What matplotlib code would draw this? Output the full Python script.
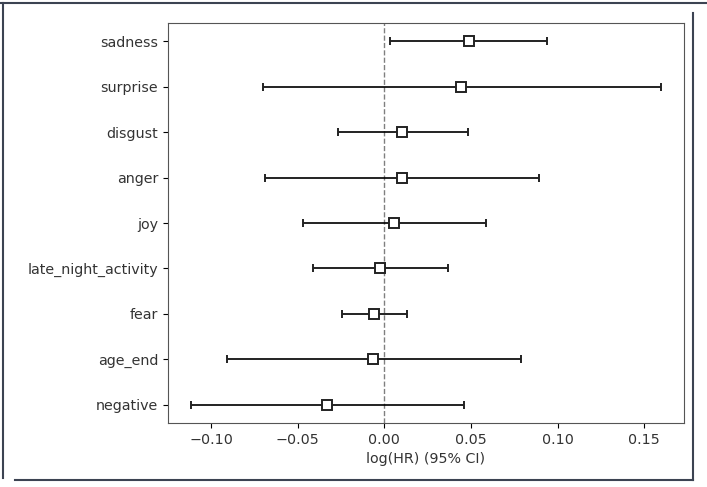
import matplotlib
matplotlib.use("Agg")
import matplotlib.pyplot as plt
from matplotlib.lines import Line2D
import numpy as np

plt.rcParams["font.size"] = 10.3
plt.rcParams["text.color"] = "#333333"
plt.rcParams["xtick.labelcolor"] = "#333333"
plt.rcParams["ytick.labelcolor"] = "#333333"
plt.rcParams["axes.labelcolor"] = "#333333"

# lifelines-style forest plot of log hazard ratios
covariates = ["negative", "age_end", "fear", "late_night_activity", "joy",
              "anger", "disgust", "surprise", "sadness"]
coef = [-0.0330, -0.0067, -0.0062, -0.0023, 0.0056, 0.0104, 0.0104, 0.0445, 0.0486]
lower = [-0.1113, -0.0910, -0.0244, -0.0411, -0.0471, -0.0687, -0.0267, -0.0701, 0.0035]
upper = [0.0457, 0.0787, 0.0128, 0.0367, 0.0584, 0.0895, 0.0482, 0.1594, 0.0937]

coef = np.array(coef)
err = np.vstack([coef - np.array(lower), np.array(upper) - coef])
ypos = np.arange(len(covariates))

fig = plt.figure(figsize=(7.07, 4.87), dpi=100)
ax = fig.add_axes([168 / 707, 1 - 423 / 487, (684 - 168) / 707, 400 / 487])

ax.errorbar(coef, ypos, xerr=err, fmt="s", color="#222222", markerfacecolor="white",
            markeredgewidth=1.4, elinewidth=1.4, capsize=3, markersize=6.5)
ax.axvline(0, color="k", linestyle="--", linewidth=1, alpha=0.5)

ax.set_yticks(ypos)
ax.set_yticklabels(covariates)
ax.set_xlabel("log(HR) (95% CI)")
for s in ax.spines.values():
    s.set_color("#555555")

# screenshot frame
fc = "#3c4352"
fig.add_artist(Line2D([0, 1], [1 - 2.5 / 487] * 2, color=fc, lw=1.5, transform=fig.transFigure))
fig.add_artist(Line2D([2.5 / 707] * 2, [1 - 2.5 / 487, 1 - 478 / 487], color=fc, lw=1.5, transform=fig.transFigure))
fig.add_artist(Line2D([693 / 707] * 2, [1 - 13 / 487, 1 - 480 / 487], color=fc, lw=1.5, transform=fig.transFigure))
fig.add_artist(Line2D([15 / 707, 693 / 707], [1 - 479.5 / 487] * 2, color=fc, lw=1.5, transform=fig.transFigure))

fig.savefig("out.png", dpi=100)
